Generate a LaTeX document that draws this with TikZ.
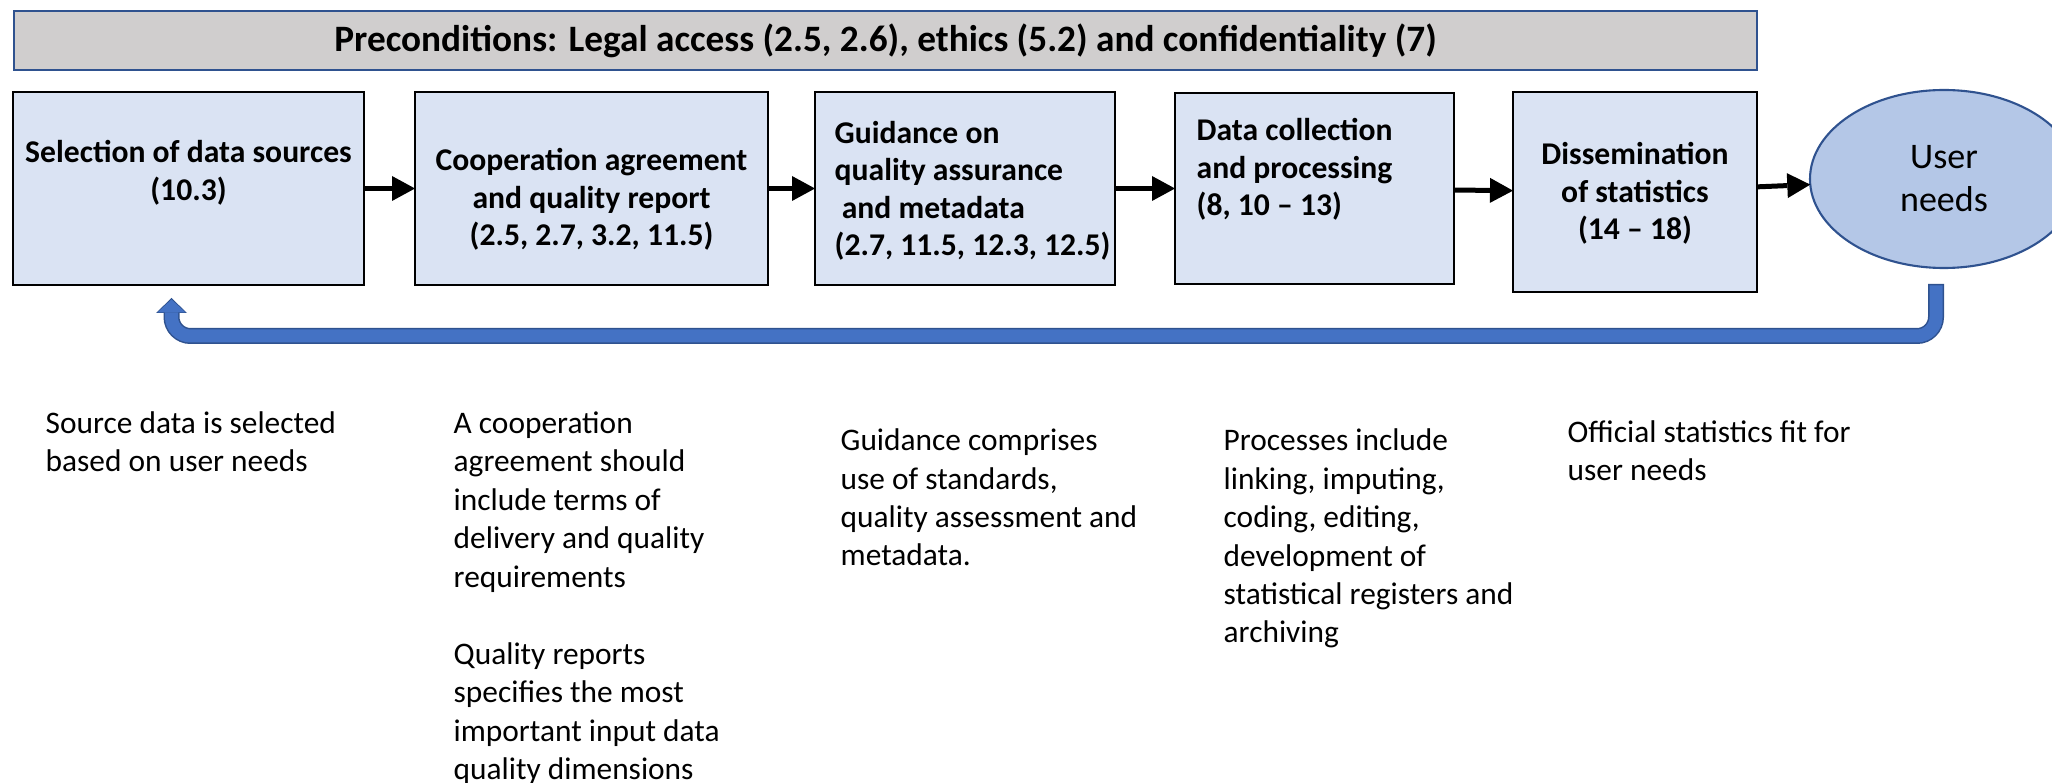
\documentclass[tikz,border=0pt]{standalone}
\usepackage{fontspec}
\setmainfont{Carlito}
\usepackage{xcolor}
\usetikzlibrary{arrows.meta, positioning, shapes.geometric}

\definecolor{stagefill}{HTML}{DAE3F3}
\definecolor{prefill}{HTML}{D0CECE}
\definecolor{needfill}{HTML}{B4C7E7}
\definecolor{darkblue}{HTML}{2F528F}
\definecolor{loopblue}{HTML}{4472C4}

\begin{document}
\begin{tikzpicture}[
    x=1mm, y=-1mm,
    stage/.style={rectangle, draw=black, line width=0.8pt, fill=stagefill, minimum height=19.3mm, inner sep=0pt, outer sep=0pt},
    stagetext/.style={font=\fontsize{9}{10.67}\selectfont\bfseries, inner sep=0pt},
    note/.style={font=\fontsize{8.93}{10.95}\selectfont, align=left, anchor=base west, inner sep=0pt},
    flow/.style={-{Triangle[length=2.3mm, width=2.5mm, line width=0pt]}, line width=0.5mm},
    feedback/.style={rounded corners=1.9mm, -{Triangle[length=1.5mm, width=3.1mm, line width=0pt]}, draw=darkblue, line width=1.6mm},
    feedbackfill/.style={rounded corners=1.9mm, -{Triangle[length=1.3mm, width=2.8mm, line width=0pt]}, draw=loopblue, line width=1.3mm, shorten <=0.15mm, shorten >=0.15mm}
]
    \useasboundingbox (0,0) rectangle (205.2,78.3);

    % preconditions banner
    \node[rectangle, draw=darkblue, line width=0.6pt, fill=prefill, minimum width=174.3mm, minimum height=5.9mm, anchor=north west,
          font=\fontsize{10.6}{12}\selectfont\bfseries] (pre) at (1.3,1.0) {Preconditions: Legal access (2.5, 2.6), ethics (5.2) and confidentiality (7)};

    % process chain
    \node[stage, minimum width=35.1mm, anchor=north west] (select) at (1.3,9.2) {};
    \node[stage, minimum width=35.3mm, right=5.1mm of select] (coop) {};
    \node[stage, minimum width=30.0mm, right=4.7mm of coop] (guide) {};
    \node[stage, minimum width=27.9mm, minimum height=19.1mm, right=6.0mm of guide] (collect) {};
    \node[stage, minimum width=24.4mm, minimum height=20.0mm, right=5.9mm of collect, yshift=-0.35mm] (dissem) {};
    \node[ellipse, draw=darkblue, line width=0.6pt, fill=needfill, minimum width=26.8mm, minimum height=17.8mm, inner sep=0pt, outer sep=0pt,
          right=5.3mm of dissem, yshift=1.3mm, align=center, font=\fontsize{10.24}{12.23}\selectfont] (need) {User\\needs};

    % step labels (base = last line)
    \node[stagetext, align=center, anchor=base] (selectT) at ([yshift=-10.85mm]select.north) {Selection of data sources\\(10.3)};
    \node[stagetext, align=center, anchor=base] (coopT) at ([yshift=-15.4mm]coop.north) {Cooperation agreement\\and quality report\\(2.5, 2.7, 3.2, 11.5)};
    \node[stagetext, align=left, anchor=base west] (guideT) at ([xshift=1.9mm, yshift=-16.4mm]guide.north west) {Guidance on\\quality assurance\\\ and metadata\\(2.7, 11.5, 12.3, 12.5)};
    \node[stagetext, align=left, anchor=base west] (collectT) at ([xshift=2.1mm, yshift=-12.3mm]collect.north west) {Data collection\\and processing\\(8, 10 – 13)};
    \node[stagetext, align=center, anchor=base] (dissemT) at ([yshift=-14.8mm]dissem.north) {Dissemination\\of statistics\\(14 – 18)};

    \draw[flow] (select) -- (coop);
    \draw[flow] (coop) -- (guide);
    \draw[flow] (guide) -- (collect);
    \draw[flow] (collect) -- (dissem);
    \draw[flow] (dissem) -- (need);

    % loop back from user needs to the selection step
    \draw[feedback] ([xshift=-0.8mm, yshift=-1.6mm]need.south) |- ([xshift=-1.7mm, yshift=-5.1mm]select.south) -- ([xshift=-1.7mm, yshift=-1.3mm]select.south);
    \draw[feedbackfill] ([xshift=-0.8mm, yshift=-1.6mm]need.south) |- ([xshift=-1.7mm, yshift=-5.1mm]select.south) -- ([xshift=-1.7mm, yshift=-1.3mm]select.south);

    % notes under each step
    \node[note] (selectN) at (4.5,47.15) {Source data is selected\\based on user needs};
    \node[note] (coopN) at (45.3,77.95) {A cooperation\\agreement should\\include terms of\\delivery and quality\\requirements\\[10.95pt]Quality reports\\specifies the most\\important input data\\quality dimensions};
    \node[note] (guideN) at (84.0,56.6) {Guidance comprises\\use of standards,\\quality assessment and\\metadata.};
    \node[note] (collectN) at (122.3,64.3) {Processes include\\linking, imputing,\\coding, editing,\\development of\\statistical registers and\\archiving};
    \node[note] (dissemN) at (156.7,48.05) {Official statistics fit for\\user needs};
\end{tikzpicture}
\end{document}
